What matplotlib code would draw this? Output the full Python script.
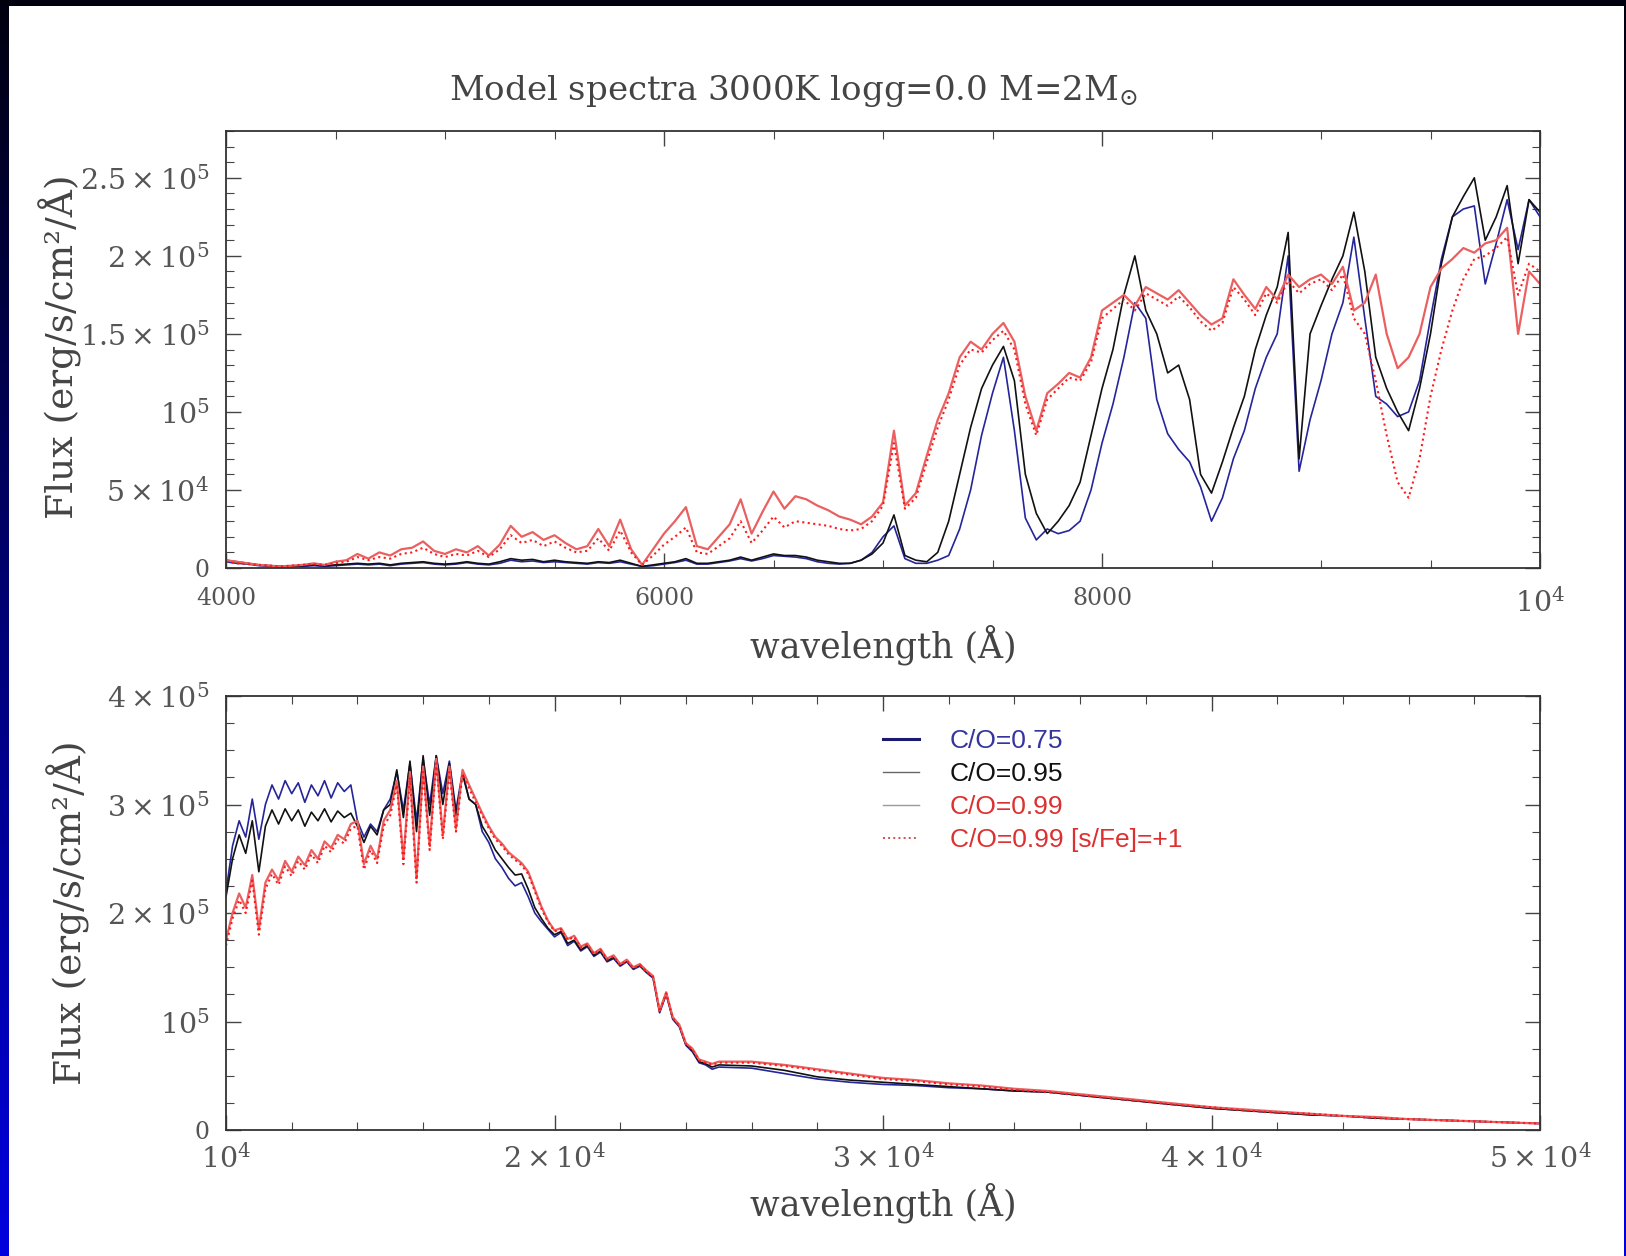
import numpy as np
import matplotlib
matplotlib.use('Agg')
import matplotlib.pyplot as plt
from matplotlib.lines import Line2D
from matplotlib.patches import Rectangle
from matplotlib.ticker import MultipleLocator

plt.rcParams['font.family'] = ['DejaVu Serif']
plt.rcParams['mathtext.fontset'] = 'dejavuserif'

# ---------------- data (flux in units of 1e3 erg/s/cm2/A) ----------------
wl_top = list(range(4000, 10001, 50))

top_co075 = [4, 3, 2.5, 1.5, 1, 1, 1, 1, 1.5, 1,
             1.5, 2, 2.5, 2, 2.5, 1.5, 2.5, 3, 3.5, 2.5,
             2, 2.5, 3.5, 2.5, 2, 3, 5, 4, 4.5, 3.5,
             4, 3.5, 3, 2.5, 3.5, 3, 4, 2.5, 1, 1.5,
             2.5, 3.5, 5, 2.5, 2.5, 3.5, 4.5, 6, 4.5, 6,
             8, 7.5, 7, 6, 4, 3, 2.5, 3, 5, 10,
             20, 27, 6, 3, 3, 5, 8, 25, 50, 85,
             112, 135, 88, 32, 18, 25, 22, 24, 30, 50,
             80, 105, 135, 170, 160, 108, 86, 76, 68, 52,
             30, 45, 70, 88, 115, 135, 150, 200, 62, 95,
             120, 150, 170, 212, 160, 110, 105, 97, 100, 120,
             160, 198, 225, 230, 232, 182, 208, 236, 204, 236,
             225]

top_co095 = [5, 4, 3, 2, 1.5, 1, 1, 1.5, 2, 1.5,
             2, 2.5, 3, 2.5, 3, 2, 3, 3.5, 4, 3,
             2.5, 3, 4, 3, 2.5, 4, 6, 5, 5.5, 4,
             5, 4, 3.5, 3, 4, 3.5, 5, 3, 1, 2,
             3, 4, 6, 3, 3, 4, 5, 7, 5, 7,
             9, 8, 8, 7, 5, 4, 3, 3, 5, 9,
             16, 34, 8, 5, 4, 10, 30, 60, 90, 115,
             130, 142, 120, 60, 35, 22, 30, 40, 55, 85,
             115, 140, 175, 200, 165, 150, 125, 130, 108, 60,
             48, 68, 90, 110, 140, 162, 180, 215, 70, 150,
             168, 185, 200, 228, 190, 135, 115, 100, 88, 115,
             150, 195, 225, 238, 250, 210, 225, 245, 195, 236,
             228]

top_co099 = [5, 4, 3, 2, 1.5, 1, 1.5, 2, 3, 2,
             4, 5, 9, 6, 10, 8, 12, 13, 17, 11,
             9, 12, 10, 14, 8, 15, 27, 20, 23, 18,
             21, 16, 12, 14, 25, 14, 31, 12, 2, 12,
             22, 30, 39, 14, 12, 20, 28, 44, 22, 36,
             49, 38, 46, 44, 40, 37, 33, 31, 28, 33,
             42, 88, 40, 48, 72, 95, 112, 135, 145, 140,
             150, 157, 145, 110, 88, 112, 118, 125, 122, 135,
             165, 170, 175, 168, 180, 176, 172, 178, 170, 162,
             156, 160, 185, 175, 166, 180, 172, 188, 180, 185,
             188, 182, 193, 165, 170, 188, 150, 128, 135, 150,
             180, 192, 198, 205, 202, 208, 210, 218, 150, 190,
             182]

top_co099_s = [4, 3, 2.5, 2, 1.5, 1, 1.5, 2, 2.5, 2,
               3, 4, 7, 5, 7, 6, 9, 10, 13, 9,
               7, 9, 8, 11, 7, 12, 21, 16, 18, 14,
               17, 13, 10, 11, 19, 11, 24, 10, 2, 8,
               15, 20, 26, 10, 9, 14, 19, 30, 16, 24,
               33, 26, 30, 29, 28, 27, 25, 24, 25, 30,
               40, 80, 38, 45, 68, 90, 108, 130, 140, 138,
               146, 152, 140, 105, 85, 108, 115, 122, 120, 132,
               160, 166, 172, 165, 176, 172, 168, 174, 167, 158,
               152, 157, 180, 172, 162, 176, 170, 184, 176, 182,
               185, 178, 188, 160, 150, 120, 85, 55, 45, 70,
               110, 140, 165, 185, 198, 200, 205, 212, 175, 195,
               190]

wl_bot = list(range(10000, 25001, 200)) + list(range(26000, 50001, 1000))

bot_co075 = [220, 262, 285, 270, 305, 268, 300, 318, 305, 322,
             310, 320, 302, 318, 308, 322, 306, 320, 312, 318,
             285, 270, 282, 275, 295, 305, 330, 295, 338, 285,
             342, 300, 345, 310, 340, 295, 330, 305, 300, 275,
             265, 250, 242, 232, 225, 228, 215, 200, 192, 185,
             178, 182, 170, 174, 165, 169, 160, 164, 155, 158,
             151, 155, 148, 151, 145, 140, 108, 125, 102, 95,
             78, 72, 62, 60, 56, 58,
             57, 52, 47, 44, 42, 41, 39, 38, 36, 35,
             32, 29, 26, 23, 20, 18, 16, 14, 13, 11,
             10, 9, 8, 7, 6]

bot_co095 = [215, 250, 272, 255, 285, 238, 280, 295, 282, 296,
             285, 295, 280, 293, 285, 296, 284, 294, 288, 292,
             280, 265, 280, 272, 295, 300, 332, 288, 340, 275,
             345, 290, 345, 300, 338, 290, 328, 305, 300, 280,
             270, 258, 250, 242, 235, 236, 222, 205, 195, 186,
             180, 183, 172, 175, 166, 170, 161, 165, 156, 159,
             152, 156, 149, 152, 146, 141, 109, 126, 103, 96,
             79, 73, 63, 61, 58, 60,
             59, 55, 49, 46, 44, 42, 40, 38, 36, 35,
             32, 29, 26, 23, 20, 18, 16, 14, 13, 11,
             10, 9, 8, 7, 6]

bot_co099 = [175, 200, 218, 205, 235, 185, 228, 240, 230, 248,
             238, 252, 244, 258, 250, 266, 260, 272, 268, 282,
             285, 245, 262, 250, 285, 295, 322, 250, 330, 232,
             335, 262, 342, 272, 335, 278, 332, 318, 305, 292,
             280, 270, 264, 256, 251, 246, 238, 222, 206, 193,
             184, 186, 176, 179, 169, 172, 163, 167, 158, 161,
             153, 157, 150, 153, 147, 142, 110, 127, 104, 97,
             80, 75, 65, 63, 61, 63,
             63, 60, 56, 52, 48, 46, 43, 41, 38, 36,
             33, 30, 27, 24, 21, 19, 17, 15, 13, 12,
             10, 9, 8, 7, 6]

bot_co099_s = [170, 195, 212, 200, 230, 180, 222, 236, 226, 243,
               234, 248, 240, 254, 246, 262, 256, 268, 264, 278,
               280, 240, 258, 246, 280, 290, 318, 245, 325, 228,
               330, 258, 338, 268, 330, 275, 328, 315, 302, 290,
               278, 268, 262, 254, 249, 244, 236, 220, 204, 192,
               183, 185, 175, 178, 168, 171, 162, 166, 157, 160,
               152, 156, 149, 152, 146, 141, 109, 126, 103, 96,
               79, 74, 64, 62, 60, 62,
               62, 59, 55, 51, 47, 45, 42, 40, 37, 35,
               32, 29, 26, 23, 21, 18, 16, 15, 13, 11,
               10, 9, 8, 7, 6]

labels = ['C/O=0.75', 'C/O=0.95', 'C/O=0.99', 'C/O=0.99 [s/Fe]=+1']
line_colors = ['#25259a', '#111111', '#ff1a1a', '#ea6060']
text_colors = ['#3535a0', '#111111', '#dd3030', '#dd3030']

top_yticks = [0, 5e4, 1e5, 1.5e5, 2e5, 2.5e5]
top_ylabels = ['0', r'$5\times10^4$', r'$10^5$', r'$1.5\times10^5$', r'$2\times10^5$', r'$2.5\times10^5$']
top_xticks = [4000, 6000, 8000, 10000]
top_xlabels = ['4000', '6000', '8000', r'$10^4$']
bot_yticks = [0, 1e5, 2e5, 3e5, 4e5]
bot_ylabels = ['0', r'$10^5$', r'$2\times10^5$', r'$3\times10^5$', r'$4\times10^5$']
bot_xticks = [10000, 20000, 30000, 40000, 50000]
bot_xlabels = [r'$10^4$', r'$2\times10^4$', r'$3\times10^4$', r'$4\times10^4$', r'$5\times10^4$']

# ---------------- figure ----------------
W, H = 1626, 1256
fig = plt.figure(figsize=(W / 100, H / 100), dpi=100)

bg = fig.add_axes([0, 0, 1, 1], zorder=-10)
img = np.zeros((256, 1, 3))
img[:, 0, 2] = np.linspace(0.06, 0.87, 256)
bg.imshow(img, extent=[0, 1, 0, 1], aspect='auto', origin='upper')
bg.add_patch(Rectangle((9 / W, 0), (1624 - 9) / W, (H - 6) / H,
                       facecolor='white', edgecolor='none'))
bg.set_xlim(0, 1)
bg.set_ylim(0, 1)
bg.axis('off')

ax1 = fig.add_axes([226 / W, 1 - 568 / H, 1314 / W, 437 / H])
ax2 = fig.add_axes([226 / W, 1 - 1130 / H, 1314 / W, 434 / H])

series_top = [top_co075, top_co095, top_co099_s, top_co099]
series_bot = [bot_co075, bot_co095, bot_co099_s, bot_co099]
order = [0, 1, 3, 2]
styles = ['-', '-', ':', '-']
widths = [1.2, 1.2, 1.5, 1.6]

for ax, wl, series in [(ax1, wl_top, series_top), (ax2, wl_bot, series_bot)]:
    for k in order:
        vals = np.array(series[k], dtype=float) * 1e3
        ax.plot(wl, vals, color=line_colors[k], ls=styles[k], lw=widths[k])


def style(ax, xpad):
    ax.tick_params(which='both', direction='in', top=True, right=True,
                   color='#444', labelcolor='#555')
    ax.tick_params(which='major', length=11, width=1.0, labelsize=17)
    ax.tick_params(axis='x', which='major', pad=xpad)
    ax.tick_params(axis='y', which='major', pad=12)
    ax.tick_params(which='minor', length=6, width=0.8)
    for s in ax.spines.values():
        s.set_color('#333')
        s.set_linewidth(1.3)
    for lab in ax.get_xticklabels() + ax.get_yticklabels():
        lab.set_fontsize(20.5 if '$' in lab.get_text() else 17)


ax1.set_xlim(4000, 10000)
ax1.set_ylim(0, 2.8e5)
ax1.set_xticks(top_xticks)
ax1.set_xticklabels(top_xlabels)
ax1.set_yticks(top_yticks)
ax1.set_yticklabels(top_ylabels)
ax1.xaxis.set_minor_locator(MultipleLocator(500))
ax1.yaxis.set_minor_locator(MultipleLocator(1e4))
style(ax1, 14)

ax2.set_xlim(10000, 50000)
ax2.set_ylim(0, 4e5)
ax2.set_xticks(bot_xticks)
ax2.set_xticklabels(bot_xlabels)
ax2.set_yticks(bot_yticks)
ax2.set_yticklabels(bot_ylabels)
ax2.xaxis.set_minor_locator(MultipleLocator(2000))
ax2.yaxis.set_minor_locator(MultipleLocator(2.5e4))
style(ax2, 10)

# legend
handles = [Line2D([], [], color='#1a1a70', lw=2.2),
           Line2D([], [], color='#666666', lw=1.0),
           Line2D([], [], color='#999999', lw=1.0),
           Line2D([], [], color='#d05050', lw=1.4, ls=':')]
leg = ax2.legend(handles, labels, loc='upper left', bbox_to_anchor=(0.50, 0.924),
                 frameon=False, borderpad=0, borderaxespad=0, handlelength=1.35,
                 handletextpad=1.18, labelspacing=0.34,
                 prop={'family': 'Liberation Sans', 'size': 19})
for t, c in zip(leg.get_texts(), text_colors):
    t.set_color(c)

txt_col = '#444'
fig.text(793 / W, 1 - 91 / H, r'Model spectra 3000K logg=0.0 M=2M$_{\odot}$',
         ha='center', va='center', fontsize=24.5, color=txt_col)
fig.text(883 / W, 1 - 645 / H, 'wavelength (Å)', ha='center', va='center',
         fontsize=25, color=txt_col)
fig.text(883 / W, 1 - 1203 / H, 'wavelength (Å)', ha='center', va='center',
         fontsize=25, color=txt_col)
fig.text(60 / W, 1 - 347 / H, 'Flux (erg/s/cm²/Å)', ha='center', va='center',
         rotation=90, fontsize=27, color=txt_col)
fig.text(68 / W, 1 - 913 / H, 'Flux (erg/s/cm²/Å)', ha='center', va='center',
         rotation=90, fontsize=27, color=txt_col)

fig.savefig('out.png', dpi=100)
